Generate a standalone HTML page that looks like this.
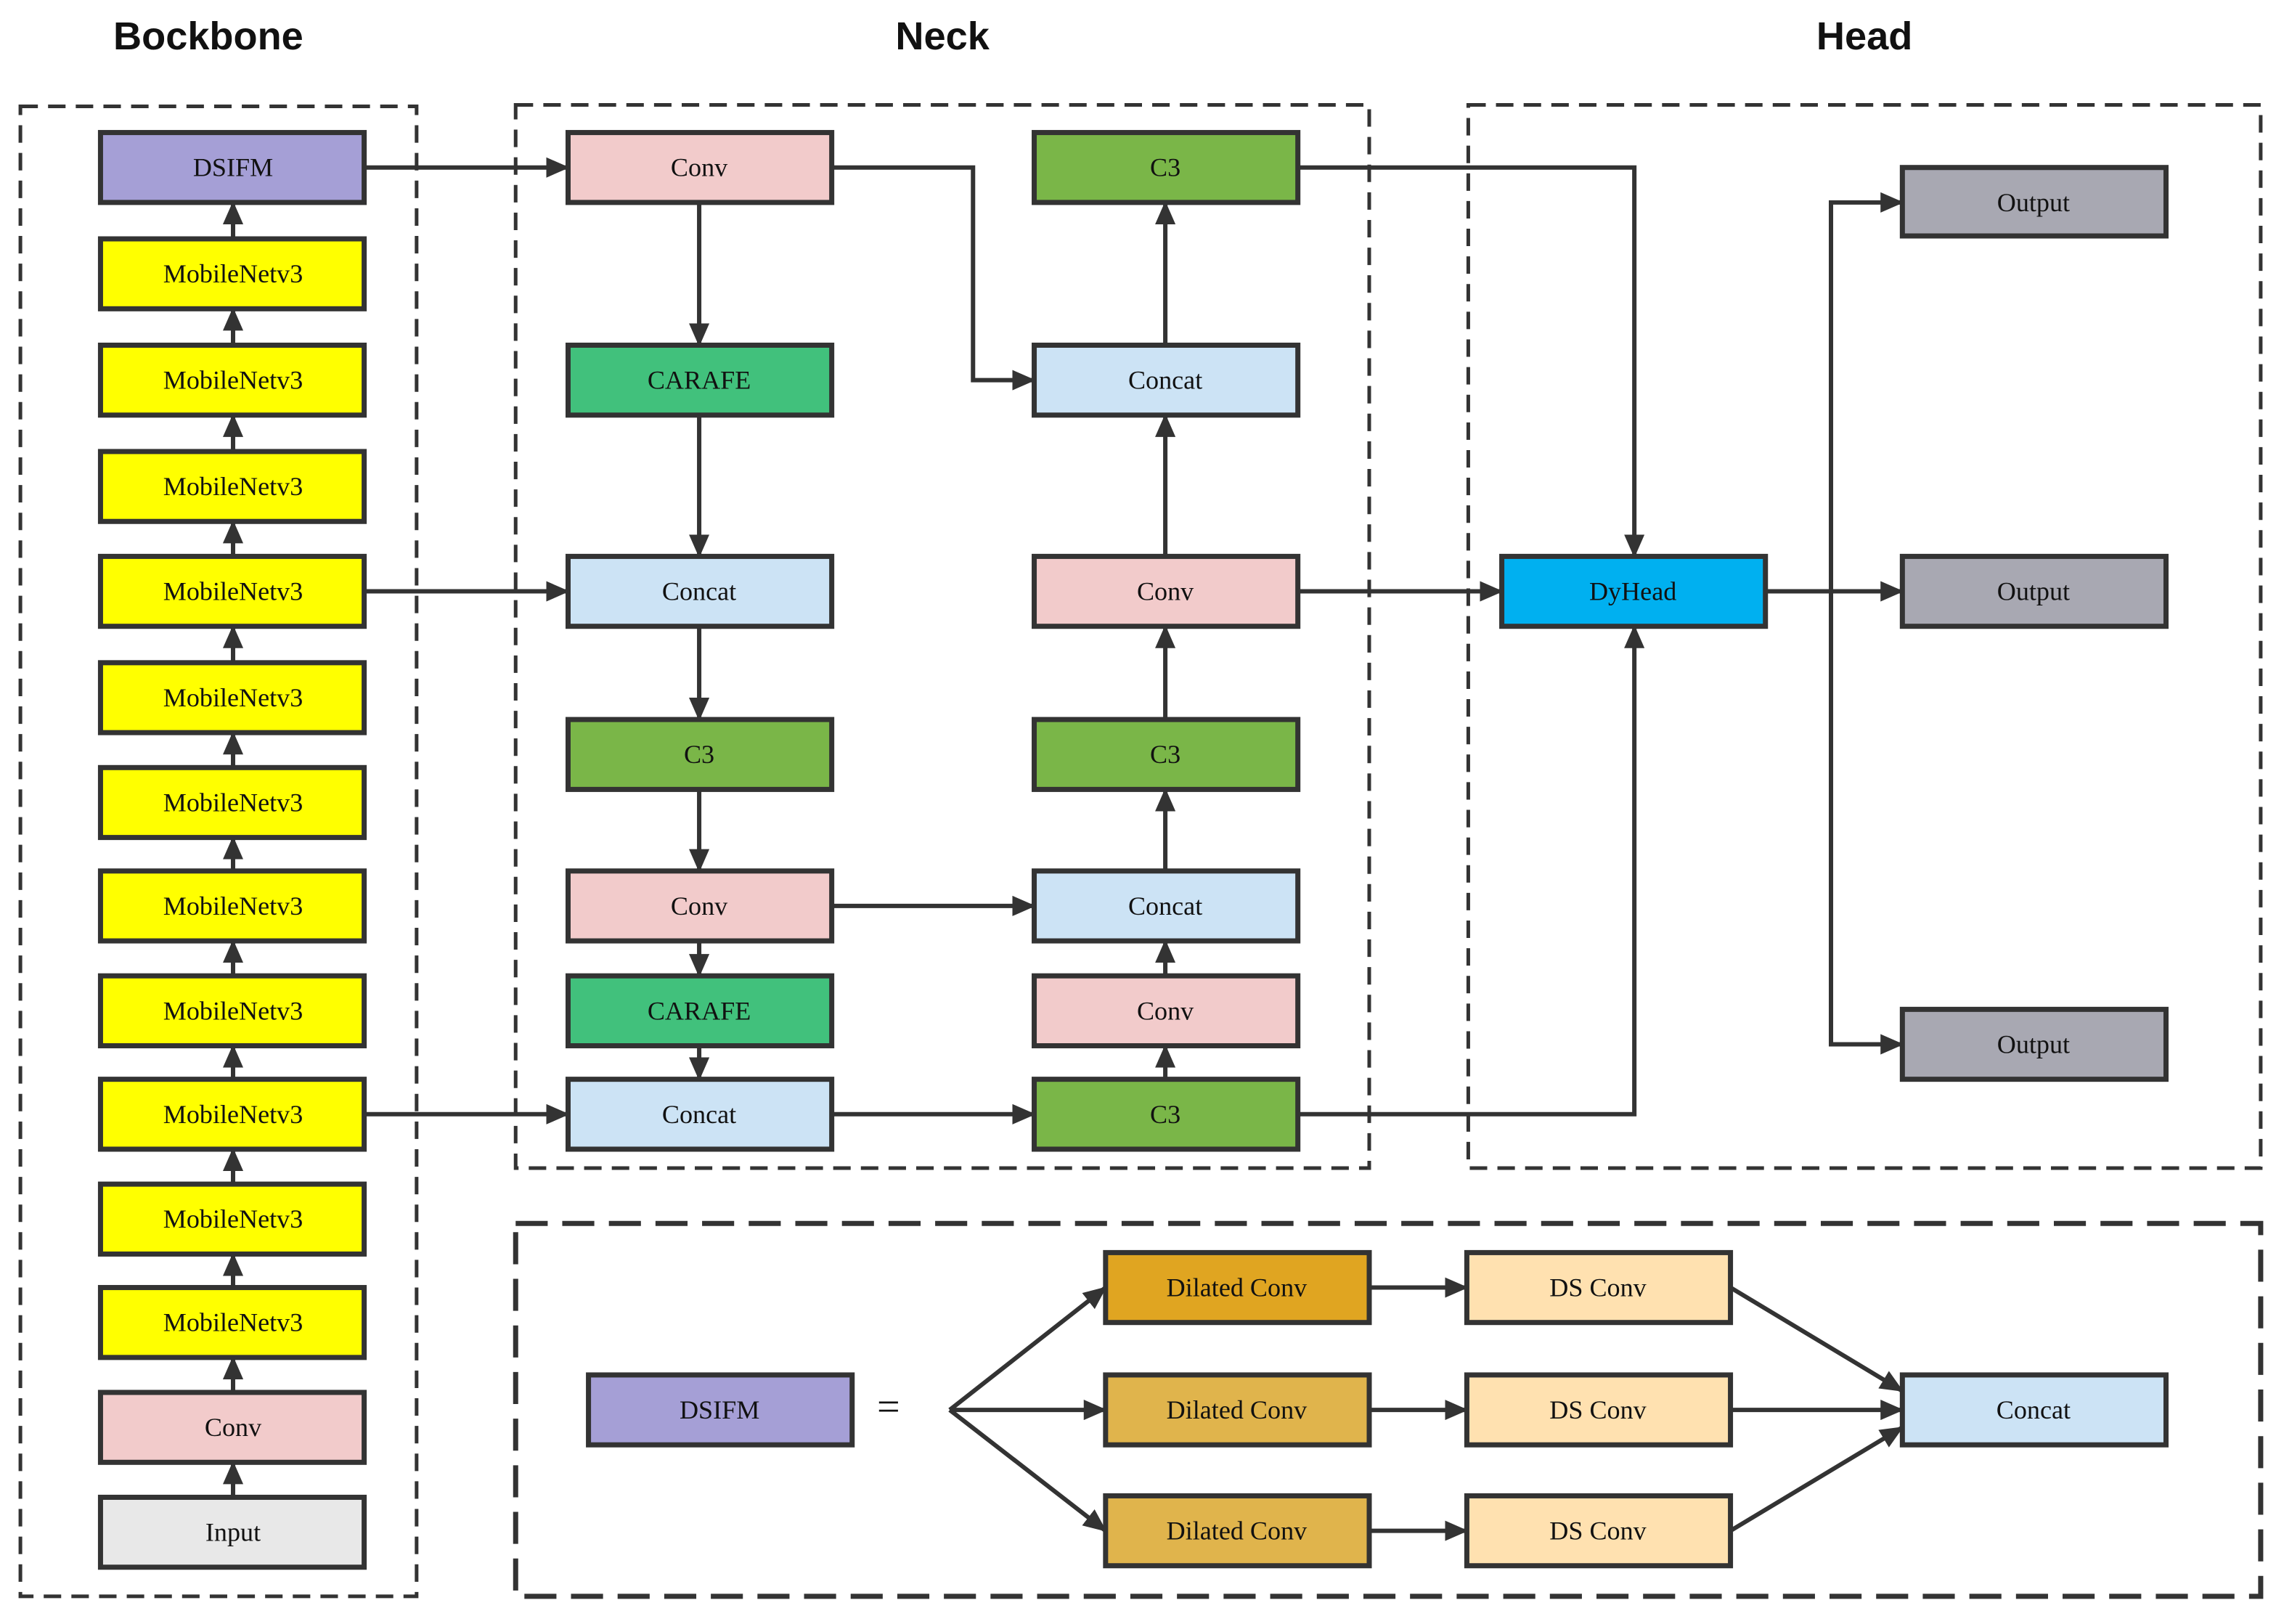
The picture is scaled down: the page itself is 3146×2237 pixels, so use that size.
<!DOCTYPE html>
<html><head><meta charset="utf-8"><style>
html,body{margin:0;padding:0;background:#fff;}
svg{display:block;}
text{font-family:"Liberation Serif",serif;font-size:18px;fill:#111;text-anchor:middle;dominant-baseline:central;}
.t{font-family:"Liberation Sans",sans-serif;font-weight:bold;font-size:27px;}
.b{stroke:#333;stroke-width:3.5;}
.l{stroke:#333;stroke-width:3;fill:none;}
.d{stroke:#333;stroke-width:2.5;fill:none;stroke-dasharray:12 7;}
.d2{stroke:#333;stroke-width:3.5;fill:none;stroke-dasharray:22 10;}
</style></head><body>
<svg width="3146" height="2237" viewBox="0 0 1568 1115" preserveAspectRatio="none" xmlns="http://www.w3.org/2000/svg">
<defs><marker id="a" markerUnits="userSpaceOnUse" markerWidth="16" markerHeight="14" refX="15" refY="7" orient="auto"><path d="M0,0 L16,7 L0,14 z" fill="#333"/></marker></defs>
<rect width="1568" height="1115" fill="#fff"/>
<text class="t" x="143" y="25">Bockbone</text>
<text class="t" x="647" y="25">Neck</text>
<text class="t" x="1280" y="25">Head</text>
<rect class="d" x="14" y="73" width="272" height="1023"/>
<rect class="d" x="354" y="72" width="586" height="730"/>
<rect class="d" x="1008" y="72" width="544" height="730"/>
<rect class="d2" x="354" y="840" width="1198" height="256"/>

<g class="l" marker-end="url(#a)">
<line x1="160" y1="164" x2="160" y2="139"/><line x1="160" y1="237" x2="160" y2="212"/>
<line x1="160" y1="310" x2="160" y2="285"/><line x1="160" y1="382" x2="160" y2="358"/>
<line x1="160" y1="455" x2="160" y2="430"/><line x1="160" y1="527" x2="160" y2="503"/>
<line x1="160" y1="598" x2="160" y2="575"/><line x1="160" y1="670" x2="160" y2="646"/>
<line x1="160" y1="741" x2="160" y2="718"/><line x1="160" y1="813" x2="160" y2="789"/>
<line x1="160" y1="884" x2="160" y2="861"/><line x1="160" y1="956" x2="160" y2="932"/>
<line x1="160" y1="1028" x2="160" y2="1004"/>
<line x1="250" y1="115" x2="390" y2="115"/><line x1="250" y1="406" x2="390" y2="406"/>
<line x1="250" y1="765" x2="390" y2="765"/>
<line x1="480" y1="139" x2="480" y2="237"/><line x1="480" y1="285" x2="480" y2="382"/>
<line x1="480" y1="430" x2="480" y2="494"/><line x1="480" y1="542" x2="480" y2="598"/>
<line x1="480" y1="646" x2="480" y2="670"/><line x1="480" y1="718" x2="480" y2="741"/>
<polyline points="571,115 668,115 668,261 710,261"/>
<line x1="571" y1="622" x2="710" y2="622"/><line x1="571" y1="765" x2="710" y2="765"/>
<line x1="800" y1="741" x2="800" y2="718"/><line x1="800" y1="670" x2="800" y2="646"/>
<line x1="800" y1="598" x2="800" y2="542"/><line x1="800" y1="494" x2="800" y2="430"/>
<line x1="800" y1="382" x2="800" y2="285"/><line x1="800" y1="237" x2="800" y2="139"/>
<polyline points="891,115 1122,115 1122,382"/>
<line x1="891" y1="406" x2="1031" y2="406"/>
<polyline points="891,765 1122,765 1122,430"/>
<line x1="1212" y1="406" x2="1306" y2="406"/>
<polyline points="1257,406 1257,139 1306,139"/>
<polyline points="1257,406 1257,717 1306,717"/>
<line x1="652" y1="968" x2="759" y2="884"/><line x1="652" y1="968" x2="759" y2="968"/>
<line x1="652" y1="968" x2="759" y2="1051"/>
<line x1="940" y1="884" x2="1007" y2="884"/><line x1="940" y1="968" x2="1007" y2="968"/>
<line x1="940" y1="1051" x2="1007" y2="1051"/>
<line x1="1188" y1="884" x2="1306" y2="955"/><line x1="1188" y1="968" x2="1306" y2="968"/>
<line x1="1188" y1="1051" x2="1306" y2="980"/>
</g>

<g class="b">
<rect x="69" y="91" width="181" height="48" fill="#a59fd6"/>
<rect x="69" y="164" width="181" height="48" fill="#ffff00"/>
<rect x="69" y="237" width="181" height="48" fill="#ffff00"/>
<rect x="69" y="310" width="181" height="48" fill="#ffff00"/>
<rect x="69" y="382" width="181" height="48" fill="#ffff00"/>
<rect x="69" y="455" width="181" height="48" fill="#ffff00"/>
<rect x="69" y="527" width="181" height="48" fill="#ffff00"/>
<rect x="69" y="598" width="181" height="48" fill="#ffff00"/>
<rect x="69" y="670" width="181" height="48" fill="#ffff00"/>
<rect x="69" y="741" width="181" height="48" fill="#ffff00"/>
<rect x="69" y="813" width="181" height="48" fill="#ffff00"/>
<rect x="69" y="884" width="181" height="48" fill="#ffff00"/>
<rect x="69" y="956" width="181" height="48" fill="#f2cbcb"/>
<rect x="69" y="1028" width="181" height="48" fill="#e8e8e8"/>
<rect x="390" y="91" width="181" height="48" fill="#f2cbcb"/>
<rect x="390" y="237" width="181" height="48" fill="#41c17c"/>
<rect x="390" y="382" width="181" height="48" fill="#cce3f5"/>
<rect x="390" y="494" width="181" height="48" fill="#7ab648"/>
<rect x="390" y="598" width="181" height="48" fill="#f2cbcb"/>
<rect x="390" y="670" width="181" height="48" fill="#41c17c"/>
<rect x="390" y="741" width="181" height="48" fill="#cce3f5"/>
<rect x="710" y="91" width="181" height="48" fill="#7ab648"/>
<rect x="710" y="237" width="181" height="48" fill="#cce3f5"/>
<rect x="710" y="382" width="181" height="48" fill="#f2cbcb"/>
<rect x="710" y="494" width="181" height="48" fill="#7ab648"/>
<rect x="710" y="598" width="181" height="48" fill="#cce3f5"/>
<rect x="710" y="670" width="181" height="48" fill="#f2cbcb"/>
<rect x="710" y="741" width="181" height="48" fill="#7ab648"/>
<rect x="1031" y="382" width="181" height="48" fill="#00b0f0"/>
<rect x="1306" y="115" width="181" height="47" fill="#a8a8b2"/>
<rect x="1306" y="382" width="181" height="48" fill="#a8a8b2"/>
<rect x="1306" y="693" width="181" height="48" fill="#a8a8b2"/>
<rect x="404" y="944" width="181" height="48" fill="#a59fd6"/>
<rect x="759" y="860" width="181" height="48" fill="#e0a521"/>
<rect x="759" y="944" width="181" height="48" fill="#e0b44c"/>
<rect x="759" y="1027" width="181" height="48" fill="#e0b44c"/>
<rect x="1007" y="860" width="181" height="48" fill="#ffe1b0"/>
<rect x="1007" y="944" width="181" height="48" fill="#ffe1b0"/>
<rect x="1007" y="1027" width="181" height="48" fill="#ffe1b0"/>
<rect x="1306" y="944" width="181" height="48" fill="#cce3f5"/>
</g>

<g>
<text x="160" y="115">DSIFM</text>
<text x="160" y="188">MobileNetv3</text><text x="160" y="261">MobileNetv3</text>
<text x="160" y="334">MobileNetv3</text><text x="160" y="406">MobileNetv3</text>
<text x="160" y="479">MobileNetv3</text><text x="160" y="551">MobileNetv3</text>
<text x="160" y="622">MobileNetv3</text><text x="160" y="694">MobileNetv3</text>
<text x="160" y="765">MobileNetv3</text><text x="160" y="837">MobileNetv3</text>
<text x="160" y="908">MobileNetv3</text>
<text x="160" y="980">Conv</text><text x="160" y="1052">Input</text>
<text x="480" y="115">Conv</text><text x="480" y="261">CARAFE</text>
<text x="480" y="406">Concat</text><text x="480" y="518">C3</text>
<text x="480" y="622">Conv</text><text x="480" y="694">CARAFE</text>
<text x="480" y="765">Concat</text>
<text x="800" y="115">C3</text><text x="800" y="261">Concat</text>
<text x="800" y="406">Conv</text><text x="800" y="518">C3</text>
<text x="800" y="622">Concat</text><text x="800" y="694">Conv</text>
<text x="800" y="765">C3</text>
<text x="1121" y="406">DyHead</text>
<text x="1396" y="139">Output</text><text x="1396" y="406">Output</text>
<text x="1396" y="717">Output</text>
<text x="494" y="968">DSIFM</text>
<text x="610" y="966" style="font-size:28px">=</text>
<text x="849" y="884">Dilated Conv</text><text x="849" y="968">Dilated Conv</text>
<text x="849" y="1051">Dilated Conv</text>
<text x="1097" y="884">DS Conv</text><text x="1097" y="968">DS Conv</text>
<text x="1097" y="1051">DS Conv</text>
<text x="1396" y="968">Concat</text>
</g>
</svg>
</body></html>
